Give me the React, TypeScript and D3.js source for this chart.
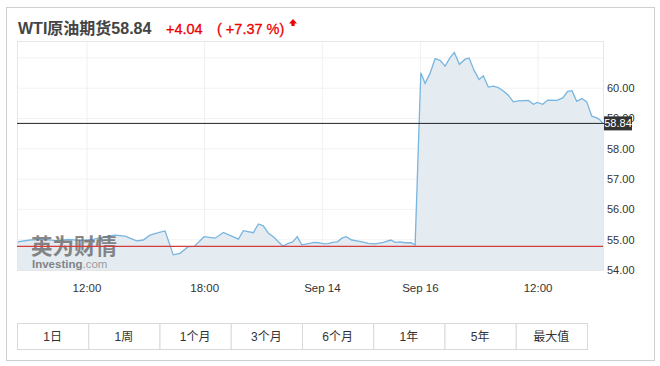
import React from "react";
import * as d3 from "d3";

// trading-hour offsets (hours since Sep 13 08:00, weekend gap removed)
const hours = [
  0.45, 1.09, 1.77, 2.45, 3.05, 3.64, 4.32, 4.92, 5.43, 5.94, 6.19, 6.53, 6.87, 7.21, 7.64, 7.98,
  8.4, 8.74, 9.16, 9.47, 9.97, 10.53, 10.95, 11.38, 11.72, 11.97, 12.48, 12.74, 12.99, 13.25, 13.5,
  13.98, 14.27, 14.49, 14.72, 14.95, 15.29, 15.58, 15.8, 16.09, 16.3, 16.56, 16.78, 16.99, 17.21,
  17.5, 17.75, 18.09, 18.34, 18.69, 19.11, 19.49, 19.71, 19.96, 20.22, 20.51, 20.73,
  21.02, 21.24, 21.49, 21.75, 22.0, 22.26, 22.51, 22.73, 22.99, 23.28, 23.48, 23.74, 23.99, 24.21,
  24.46, 24.72, 24.97, 25.23, 25.48, 25.74, 26.0, 26.5, 26.76, 26.96, 27.24, 27.49, 27.95, 28.26,
  28.51, 28.73, 28.97, 29.24, 29.48, 29.74, 29.99, 30.16, 30.31,
];
const prices = [
  54.93, 54.99, 55.01, 54.97, 55.01, 54.98, 55.01, 55.1, 55.15, 55.12, 55.05, 54.96, 54.99, 55.15, 55.23, 55.29,
  54.5, 54.55, 54.77, 54.78, 55.1, 55.05, 55.24, 55.12, 55.02, 55.3, 55.23, 55.52, 55.46, 55.21, 55.1,
  54.79, 54.88, 54.93, 55.1, 54.83, 54.87, 54.91, 54.9, 54.86, 54.87, 54.92, 54.93, 55.05, 55.1,
  54.99, 54.96, 54.92, 54.88, 54.86, 54.91, 54.99, 54.91, 54.93, 54.9, 54.9, 54.83,
  60.51, 60.16, 60.49, 60.98, 60.92, 60.73, 61.01, 61.18, 60.79, 60.96, 61.0, 60.59, 60.29, 60.41,
  60.04, 60.07, 60.02, 59.91, 59.77, 59.55, 59.58, 59.6, 59.47, 59.53, 59.47, 59.61, 59.6, 59.68,
  59.9, 59.92, 59.57, 59.66, 59.55, 59.08, 59.02, 58.95, 58.84,
];
const xTickHours = [4, 10, 16, 21, 27];
const xTickLabels = ["12:00", "18:00", "Sep 14", "Sep 16", "12:00"];
const yTicks = [54, 55, 56, 57, 58, 59, 60];
const gridValues = [54, 55, 56, 57, 58, 59, 60, 61];
const lastPrice = 58.84;
const prevClose = 54.78;
const titleName = "WTI原油期货";
const changeText = "+4.04";
const changePctText = "( +7.37 %)";
const buttons = ["1日", "1周", "1个月", "3个月", "6个月", "1年", "5年", "最大值"];

const FONT = "Arial, 'Liberation Sans', 'Noto Sans CJK SC', sans-serif";

export default function App() {
  const left = 17, right = 603, top = 41, bottom = 270;
  const x = d3.scaleLinear().domain([0.43, 30.31]).range([left, right]);
  const y = d3.scaleLinear().domain([54, 61.56]).range([bottom, top]);
  const data = hours.map((h, i) => ({ h, p: prices[i] }));
  const line = d3.line<any>().x((d) => x(d.h)).y((d) => y(d.p));
  const area = d3.area<any>().x((d) => x(d.h)).y0(bottom).y1((d) => y(d.p));

  const cellW = (587 - 17) / buttons.length;

  return (
    <svg
      width={660}
      height={366}
      style={{ position: "absolute", left: 0, top: 0, fontFamily: FONT }}
    >
      <rect x={0} y={0} width={660} height={366} fill="#fff" />
      {/* outer box */}
      <rect x={6.5} y={7.5} width={648} height={353} fill="none" stroke="#cfcfcf" />

      {/* title */}
      <text x={18} y={34} fontSize={16} fontWeight="bold" fill="#444">
        {titleName}58.84
      </text>
      <text x={166} y={34} fontSize={14.5} fill="#ee0000" stroke="#ee0000" strokeWidth={0.3}>{changeText}</text>
      <text x={217} y={34} fontSize={14.5} fill="#ee0000" stroke="#ee0000" strokeWidth={0.3}>{changePctText}</text>
      <path d="M293,19 L297,23.5 L294.6,23.5 L294.6,26 L291.4,26 L291.4,23.5 L289,23.5 Z" fill="#ee0000" />

      {/* plot background + grid */}
      {gridValues.map((v) => (
        <line key={"g" + v} x1={left} x2={right} y1={y(v)} y2={y(v)} stroke="#f3f3f3" />
      ))}
      {xTickHours.map((h, i) => (
        <line key={"v" + i} x1={x(h)} x2={x(h)} y1={top} y2={bottom} stroke="#f0f0f0" />
      ))}

      <path d={area(data) || ""} fill="#e4ecf2" />
      <path d={line(data) || ""} fill="none" stroke="#78b5e0" strokeWidth={1.3} />

      {/* watermark */}
      <g opacity={0.78}>
        <text x={31} y={254} fontSize={21.5} fontWeight="bold" fill="#666">
          英为财情
        </text>
        <text x={32} y={268} fontSize={11.5} fontWeight="bold" fill="#666">
          Investing<tspan fontWeight="normal" fill="#888">.com</tspan>
        </text>
      </g>

      {/* plot border */}
      <rect x={left + 0.5} y={top + 0.5} width={right - left} height={bottom - top} fill="none" stroke="#e6e6e6" />

      {/* previous close & last price lines */}
      <line x1={left} x2={right} y1={y(prevClose)} y2={y(prevClose)} stroke="#d33c3c" strokeWidth={1.2} />
      <line x1={left} x2={right + 1} y1={y(lastPrice)} y2={y(lastPrice)} stroke="#222" strokeWidth={1} />

      {/* y axis labels */}
      {yTicks.map((v) => (
        <text key={"y" + v} x={607} y={y(v)} dy="0.35em" fontSize={11} fill="#333">
          {v.toFixed(2)}
        </text>
      ))}
      <rect x={604} y={y(lastPrice) - 7} width={28} height={14} fill="#333" />
      <text x={618} y={y(lastPrice)} dy="0.35em" textAnchor="middle" fontSize={11} fill="#fff">
        {lastPrice.toFixed(2)}
      </text>

      {/* x axis labels */}
      {xTickHours.map((h, i) => (
        <text key={"x" + i} x={x(h)} y={292} textAnchor="middle" fontSize={11.5} fill="#333">
          {xTickLabels[i]}
        </text>
      ))}

      {/* range buttons */}
      {buttons.map((b, i) => (
        <g key={"b" + i}>
          <rect x={17.5 + i * cellW} y={323.5} width={cellW} height={26} fill="#fff" stroke="#d9d9d9" />
          <text x={17 + i * cellW + cellW / 2} y={341} textAnchor="middle" fontSize={12} fill="#333">
            {b}
          </text>
        </g>
      ))}
    </svg>
  );
}
